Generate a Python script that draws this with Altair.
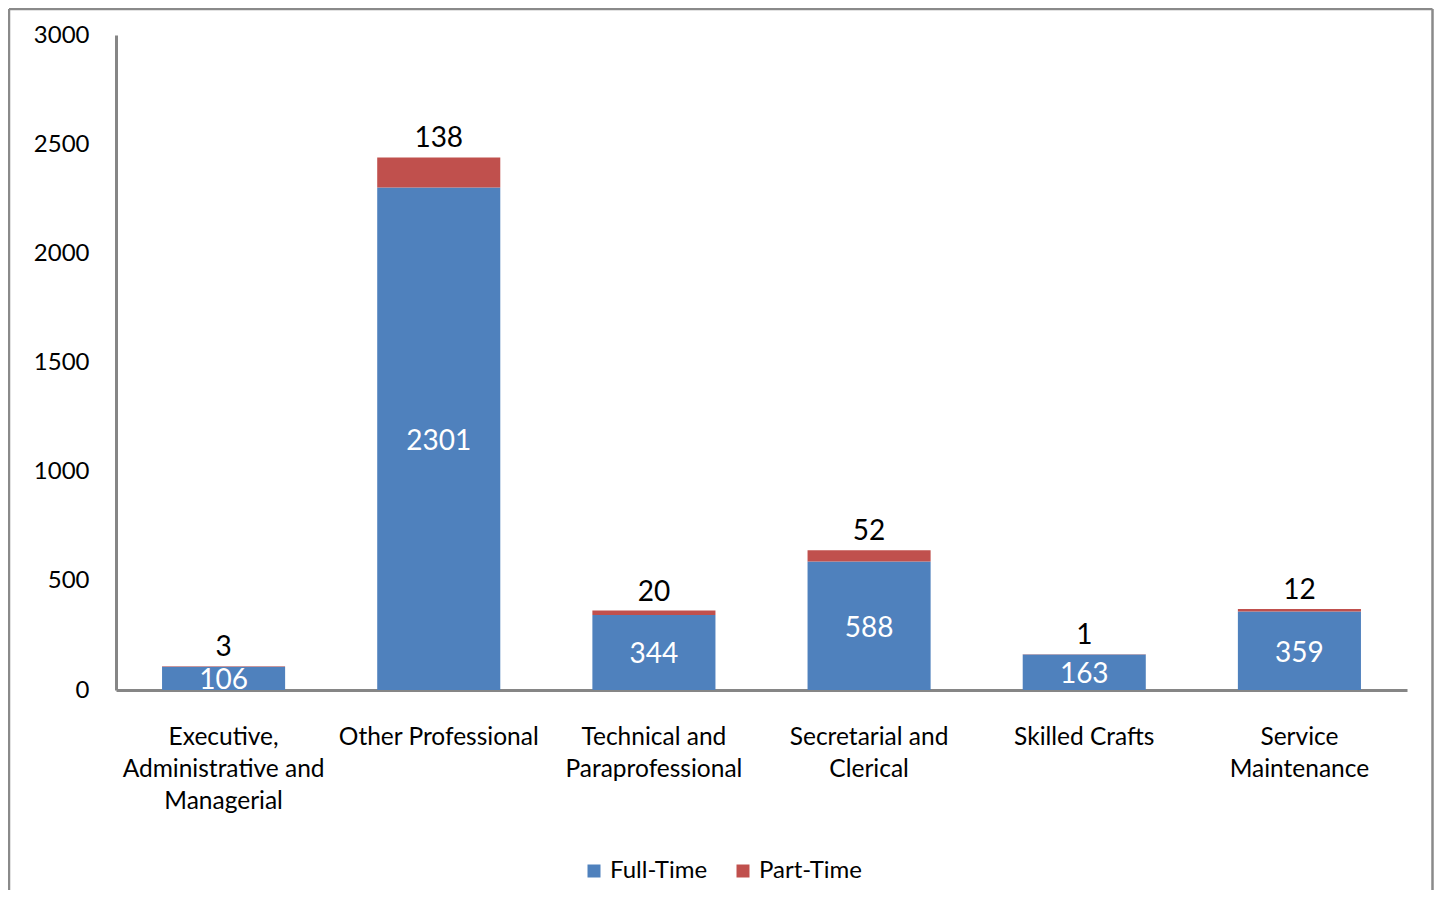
import altair as alt
import pandas as pd

categories = [
    "Executive, Administrative and Managerial",
    "Other Professional",
    "Technical and Paraprofessional",
    "Secretarial and Clerical",
    "Skilled Crafts",
    "Service Maintenance",
]
label_lines = [
    ["Executive,", "Administrative and", "Managerial"],
    ["Other Professional"],
    ["Technical and", "Paraprofessional"],
    ["Secretarial and", "Clerical"],
    ["Skilled Crafts"],
    ["Service", "Maintenance"],
]
full_time = [106, 2301, 344, 588, 163, 359]
part_time = [3, 138, 20, 52, 1, 12]
series = ["Full-Time", "Part-Time"]
colors = ["#4F81BD", "#C0504D"]
y_ticks = [0, 500, 1000, 1500, 2000, 2500, 3000]

rows = []
for c, f, p in zip(categories, full_time, part_time):
    rows.append({"cat": c, "series": series[0], "value": f, "ord": 0, "total": f + p})
    rows.append({"cat": c, "series": series[1], "value": p, "ord": 1, "total": f + p})
df = pd.DataFrame(rows)

# label expression mapping category -> multi-line label
expr = "''"
for c, lines in reversed(list(zip(categories, label_lines))):
    arr = "[" + ",".join("'" + l + "'" for l in lines) + "]"
    expr = f"datum.value == '{c}' ? {arr} : ({expr})"

FONT = "Lato"
W, H = 1291, 655

x_enc = alt.X(
    "cat:N",
    sort=categories,
    scale=alt.Scale(paddingInner=0.428, paddingOuter=0.214),
    axis=alt.Axis(
        title=None,
        labelAngle=0,
        labelExpr=expr,
        labelFont=FONT,
        labelFontSize=24.5,
        labelColor="#000000",
        labelLineHeight=32,
        labelPadding=35,
        ticks=False,
        domainColor="#868686",
        domainWidth=3,
        labelLimit=400,
    ),
)
y_scale = alt.Scale(domain=[0, 3000])

base = alt.Chart(df)

bars = base.mark_bar().encode(
    x=x_enc,
    y=alt.Y(
        "value:Q",
        stack="zero",
        scale=y_scale,
        axis=alt.Axis(
            title=None,
            values=y_ticks,
            format="d",
            grid=False,
            ticks=False,
            labelFont=FONT,
            labelFontSize=24,
            labelColor="#000000",
            labelPadding=27,
            domainColor="#868686",
            domainWidth=3,
        ),
    ),
    color=alt.Color(
        "series:N",
        scale=alt.Scale(domain=series, range=colors),
        legend=alt.Legend(
            title=None,
            orient="none",
            legendX=466,
            legendY=824,
            direction="horizontal",
            symbolType="square",
            symbolSize=169,
            symbolStrokeWidth=0,
            labelFont=FONT,
            labelFontSize=24,
            labelColor="#000000",
            labelOffset=4,
            columnPadding=23,
        ),
    ),
    order=alt.Order("ord:Q"),
)

ft_labels = (
    base.transform_filter(alt.datum.series == "Full-Time")
    .transform_calculate(mid="datum.value / 2")
    .mark_text(font=FONT, fontSize=28, color="white", baseline="middle", dy=3)
    .encode(x=alt.X("cat:N", sort=categories), y=alt.Y("mid:Q", scale=y_scale), text="value:Q")
)

pt_labels = (
    base.transform_filter(alt.datum.series == "Part-Time")
    .mark_text(font=FONT, fontSize=28, color="black", baseline="alphabetic", dy=-10)
    .encode(x=alt.X("cat:N", sort=categories), y=alt.Y("total:Q", scale=y_scale), text="value:Q")
)

one = alt.Data(values=[{"a": 1}])
FX0, FX1, FY0, FY1 = -107, 1316.5, -26, 860
frame_col = "#8A8A8A"
frame_top = alt.Chart(one).mark_rule(color=frame_col, strokeWidth=2.5).encode(
    x=alt.value(FX0), x2=alt.value(FX1), y=alt.value(FY0)
)
frame_left = alt.Chart(one).mark_rule(color=frame_col, strokeWidth=2.5).encode(
    x=alt.value(FX0), y=alt.value(FY0), y2=alt.value(FY1)
)
frame_right = alt.Chart(one).mark_rule(color=frame_col, strokeWidth=2.5).encode(
    x=alt.value(FX1), y=alt.value(FY0), y2=alt.value(FY1)
)

chart = (
    alt.layer(bars, ft_labels, pt_labels, frame_top, frame_left, frame_right)
    .properties(
        width=W,
        height=H,
        autosize=alt.AutoSizeParams(type="none"),
        padding={"left": 108, "top": 27, "right": 27, "bottom": 200},
        background="white",
    )
    .configure_view(stroke=None)
)

chart.save("out.html", embed_options={"renderer": "svg", "actions": False})
